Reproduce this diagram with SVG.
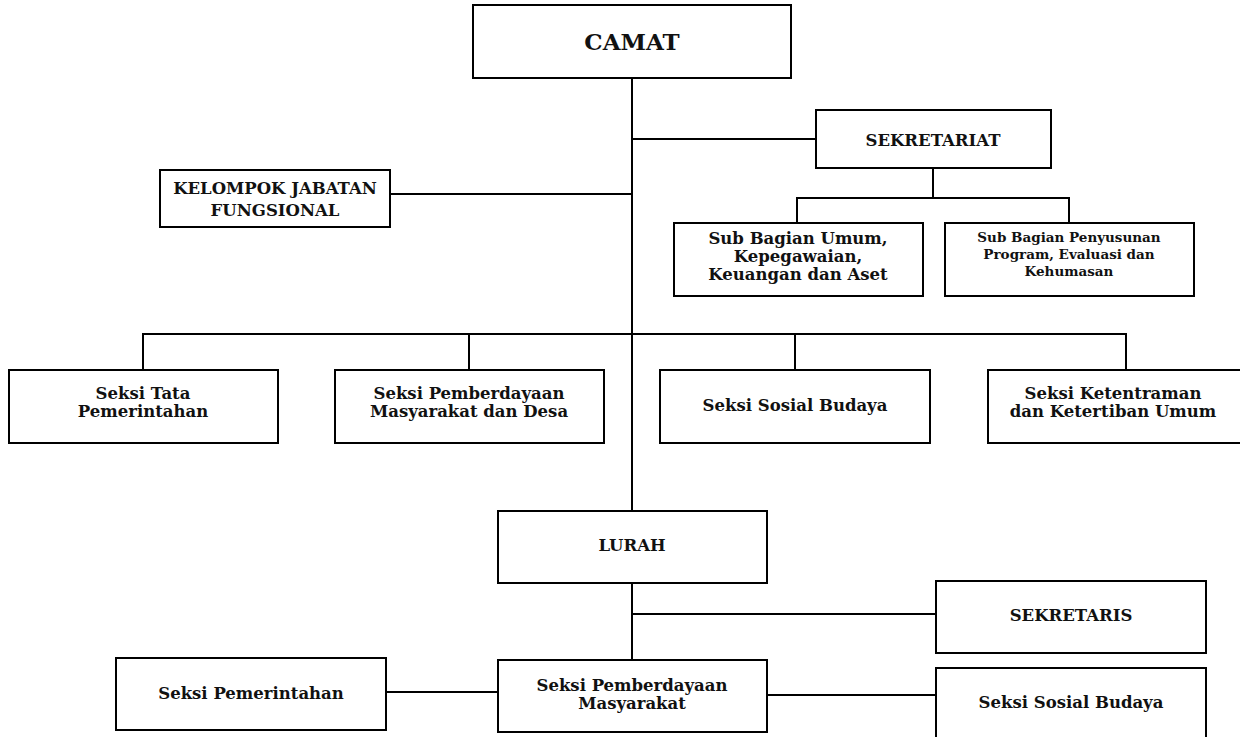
<svg xmlns="http://www.w3.org/2000/svg" width="1240" height="737" viewBox="0 0 1240 737">
<style>
.box{fill:#fff;stroke:#000;stroke-width:2}
.ln{fill:none;stroke:#000;stroke-width:2}
text{font-family:"DejaVu Serif","Liberation Serif",serif;font-weight:bold;fill:#111;text-anchor:middle}
.t16{font-size:16.5px}
.t14{font-size:13.5px}
.big{font-size:23px}
</style>
<rect width="1240" height="737" fill="#fff"/>
<g id="connectors">
<path class="ln" d="M632 78V511"/>
<path class="ln" d="M632 139H816"/>
<path class="ln" d="M390 194H632"/>
<path class="ln" d="M933 168V198M797 198H1069M797 197V223M1069 197V223"/>
<path class="ln" d="M143 334H1127M143 333V370M469 333V370M795 333V370M1126 333V370"/>
<path class="ln" d="M632 583V660"/>
<path class="ln" d="M632 614H936"/>
<path class="ln" d="M386 692H498"/>
<path class="ln" d="M767 695H936"/>
</g>
<g id="camat"><rect class="box" x="473" y="5" width="318" height="73"/><text class="big" x="632" y="50">CAMAT</text></g>
<g id="sekretariat"><rect class="box" x="816" y="110" width="235" height="58"/><text class="t16" x="933" y="146">SEKRETARIAT</text></g>
<g id="kelompok"><rect class="box" x="160" y="170" width="230" height="57"/><text class="t16" x="275" y="194">KELOMPOK JABATAN</text><text class="t16" x="275" y="216">FUNGSIONAL</text></g>
<g id="subumum"><rect class="box" x="674" y="223" width="249" height="73"/><text class="t16" x="798" y="244">Sub Bagian Umum,</text><text class="t16" x="798" y="262">Kepegawaian,</text><text class="t16" x="798" y="280">Keuangan dan Aset</text></g>
<g id="subprogram"><rect class="box" x="945" y="223" width="249" height="73"/><text class="t14" x="1069" y="242">Sub Bagian Penyusunan</text><text class="t14" x="1069" y="259">Program, Evaluasi dan</text><text class="t14" x="1069" y="276">Kehumasan</text></g>
<g id="seksi-tata"><rect class="box" x="9" y="370" width="269" height="73"/><text class="t16" x="143" y="399">Seksi Tata</text><text class="t16" x="143" y="417">Pemerintahan</text></g>
<g id="seksi-pmd"><rect class="box" x="335" y="370" width="269" height="73"/><text class="t16" x="469" y="399">Seksi Pemberdayaan</text><text class="t16" x="469" y="417">Masyarakat dan Desa</text></g>
<g id="seksi-sosbud"><rect class="box" x="660" y="370" width="270" height="73"/><text class="t16" x="795" y="411">Seksi Sosial Budaya</text></g>
<g id="seksi-trantib"><rect class="box" x="988" y="370" width="270" height="73"/><text class="t16" x="1113" y="399">Seksi Ketentraman</text><text class="t16" x="1113" y="417">dan Ketertiban Umum</text></g>
<g id="lurah"><rect class="box" x="498" y="511" width="269" height="72"/><text class="t16" x="632" y="551">LURAH</text></g>
<g id="sekretaris"><rect class="box" x="936" y="581" width="270" height="72"/><text class="t16" x="1071" y="621">SEKRETARIS</text></g>
<g id="seksi-pem"><rect class="box" x="116" y="658" width="270" height="72"/><text class="t16" x="251" y="699">Seksi Pemerintahan</text></g>
<g id="seksi-pm"><rect class="box" x="498" y="660" width="269" height="72"/><text class="t16" x="632" y="691">Seksi Pemberdayaan</text><text class="t16" x="632" y="709">Masyarakat</text></g>
<g id="seksi-sosbud2"><rect class="box" x="936" y="668" width="270" height="80"/><text class="t16" x="1071" y="708">Seksi Sosial Budaya</text></g>
</svg>
